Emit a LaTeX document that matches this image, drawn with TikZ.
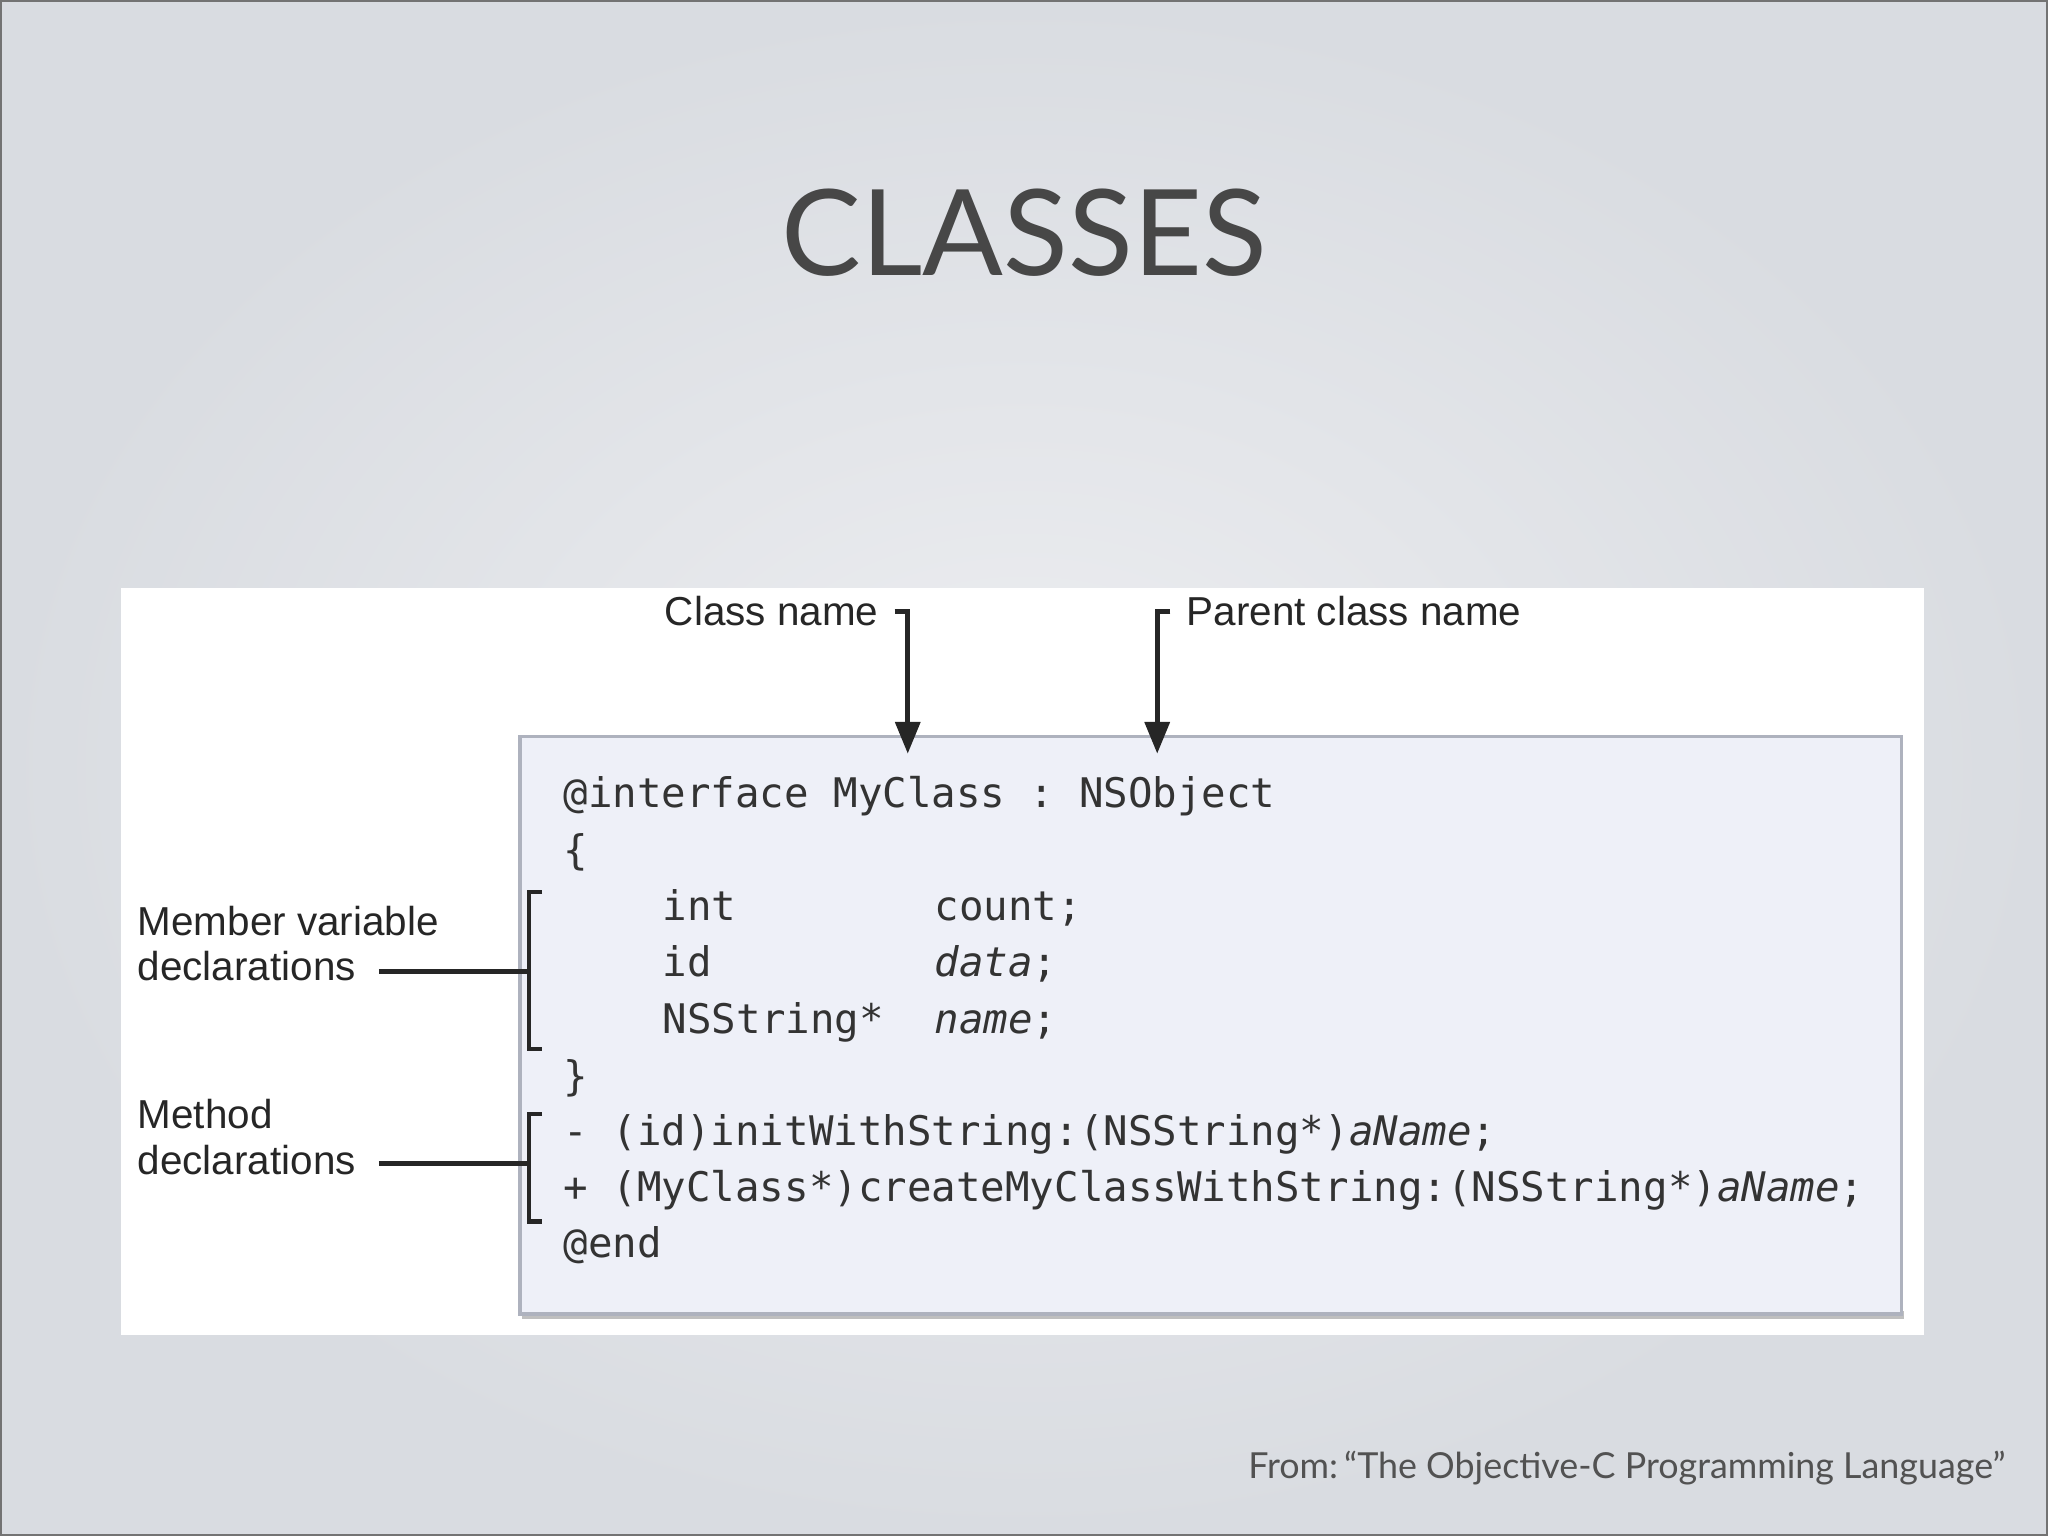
\documentclass[tikz,border=0pt]{standalone}
\usepackage{fontspec}
\setmainfont{Liberation Sans}
\newfontfamily\lato{Lato}
\setmonofont{DejaVu Sans Mono}
\usetikzlibrary{arrows.meta}
\definecolor{bgc}{HTML}{EDEEF1}
\definecolor{bge}{HTML}{D9DCE1}
\definecolor{codebg}{HTML}{EEF0F8}
\definecolor{codebd}{HTML}{AEB2BE}
\definecolor{ttl}{HTML}{474747}
\begin{document}
\begin{tikzpicture}[x=0.01306cm,y=-0.01306cm,
  lbl/.style={anchor=base west,inner sep=0,font=\fontsize{11.5pt}{13pt}\selectfont,text=black!85},
  code/.style={anchor=base west,inner sep=0,font=\ttfamily\fontsize{11.6pt}{13pt}\selectfont,text=black!80},
  conn/.style={line width=1.3pt,black!85},
  arr/.style={conn,-{Triangle[length=9pt,width=7pt]}}]
\useasboundingbox (0,0) rectangle (1568,1176);
\shade[inner color=bgc,outer color=bge] (0,0) rectangle (1568,1176);
\draw[black!55,line width=0.8pt] (0.5,0.5) rectangle (1567.5,1175.5);
\node[font=\lato\fontsize{34pt}{36pt}\selectfont,text=ttl,inner sep=0] (title) at (784,178) {CLASSES};
\fill[white] (93,450) rectangle (1473,1022);
\fill[black!25] (400,1004) rectangle (1458,1010);
\draw[codebd,fill=codebg,line width=1pt] (398,564) rectangle (1456,1006);
% code
\node[code] (c1) at (431,618) {@interface MyClass : NSObject};
\node[code] (c2) at (431,662) {\{};
\node[code] (c3) at (507,705) {int};
\node[code] (c3b) at (715,705) {count;};
\node[code] (c4) at (507,748) {id};
\node[code] (c4b) at (715,748) {\textit{data};};
\node[code] (c5) at (507,791) {NSString*};
\node[code] (c5b) at (715,791) {\textit{name};};
\node[code] (c6) at (431,835) {\}};
\node[code] (c7) at (431,877) {- (id)initWithString:(NSString*)\textit{aName};};
\node[code] (c8) at (431,920) {+ (MyClass*)createMyClassWithString:(NSString*)\textit{aName};};
\node[code] (c9) at (431,963) {@end};
% labels
\node[lbl,anchor=base east] (cn) at (673,479) {Class name};
\node[lbl] (pn) at (908,479) {Parent class name};
\node[lbl] (mv1) at (105,716) {Member variable};
\node[lbl] (mv2) at (105,751) {declarations};
\node[lbl] (md1) at (105,864) {Method};
\node[lbl] (md2) at (105,899) {declarations};
\coordinate (cnt) at (685,468);
\coordinate (cnb) at (695,577);
\coordinate (pnt) at (896,468);
\coordinate (pnb) at (886,577);
\draw[arr] (cnt) -- (695,468) -- (cnb);
\draw[arr] (pnt) -- (886,468) -- (pnb);
\coordinate (b1t) at (415,683); \coordinate (b1b) at (415,803);
\coordinate (b2t) at (415,853); \coordinate (b2b) at (415,935);
\draw[conn] (b1t) -- (405,683) -- (405,803) -- (b1b);
\draw[conn] (b2t) -- (405,853) -- (405,935) -- (b2b);
\coordinate (m1) at (290,744);
\coordinate (m2) at (290,891);
\draw[conn] (m1) -- (405,744);
\draw[conn] (m2) -- (405,891);
\node[font=\lato\fontsize{10.2pt}{12pt}\selectfont,text=black!68,anchor=base east,inner sep=0] (src) at (1536,1132) {From:\,“The Objective-C Programming Language”};
\end{tikzpicture}
\end{document}
